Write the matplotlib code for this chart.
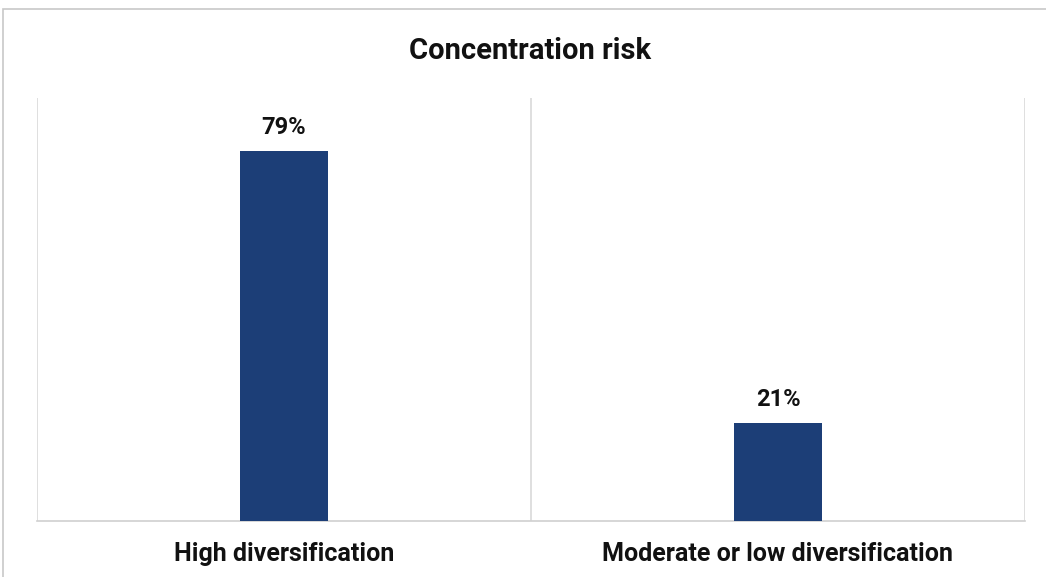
import matplotlib
matplotlib.use("Agg")
import matplotlib.pyplot as plt
from matplotlib.patches import Rectangle

categories = ["High diversification", "Moderate or low diversification"]
shares = [79, 21]
value_labels = ["79%", "21%"]

BAR_COLOR = "#1c3e77"
GRID_COLOR = "#d9d9d9"

W, H = 1046, 577
fig = plt.figure(figsize=(W / 100, H / 100), dpi=100)
plt.rcParams["font.family"] = ["Roboto", "DejaVu Sans"]

# light frame around the chart area
fig.patches.append(Rectangle((3 / W, -0.1), 1.2, 1 - 9 / H + 0.1,
                             transform=fig.transFigure, fill=False,
                             edgecolor="#c8c8c8", linewidth=1.2))

ax = fig.add_axes([37 / W, 1 - 521 / H, (1025 - 37) / W, (521 - 98) / H])
x = list(range(len(categories)))
ax.bar(x, shares, width=0.18, color=BAR_COLOR, zorder=3)
ax.set_xlim(-0.5, len(categories) - 0.5)
ax.set_ylim(0, 90.3)

# category separators
for b in [-0.5, 0.5, 1.5]:
    ax.axvline(b, color=GRID_COLOR, linewidth=1.2, zorder=1)

for xi, v, lab in zip(x, shares, value_labels):
    ax.annotate(lab, (xi, v), xytext=(0, 17), textcoords="offset points",
                ha="center", va="center", fontsize=17, fontweight="bold",
                color="#111111")

for s in ["top", "left", "right"]:
    ax.spines[s].set_visible(False)
ax.spines["bottom"].set_color("#d0d0d0")
ax.spines["bottom"].set_linewidth(1.2)
ax.set_yticks([])
ax.set_xticks(x)
ax.set_xticklabels(categories, fontsize=18, fontweight="bold", color="#111111")
ax.tick_params(axis="x", length=0, pad=15)

fig.text(530 / W, 1 - 51 / H, "Concentration risk", ha="center", va="center",
         fontsize=21, fontweight="bold", color="#111111")

fig.savefig("out.png", dpi=100)
